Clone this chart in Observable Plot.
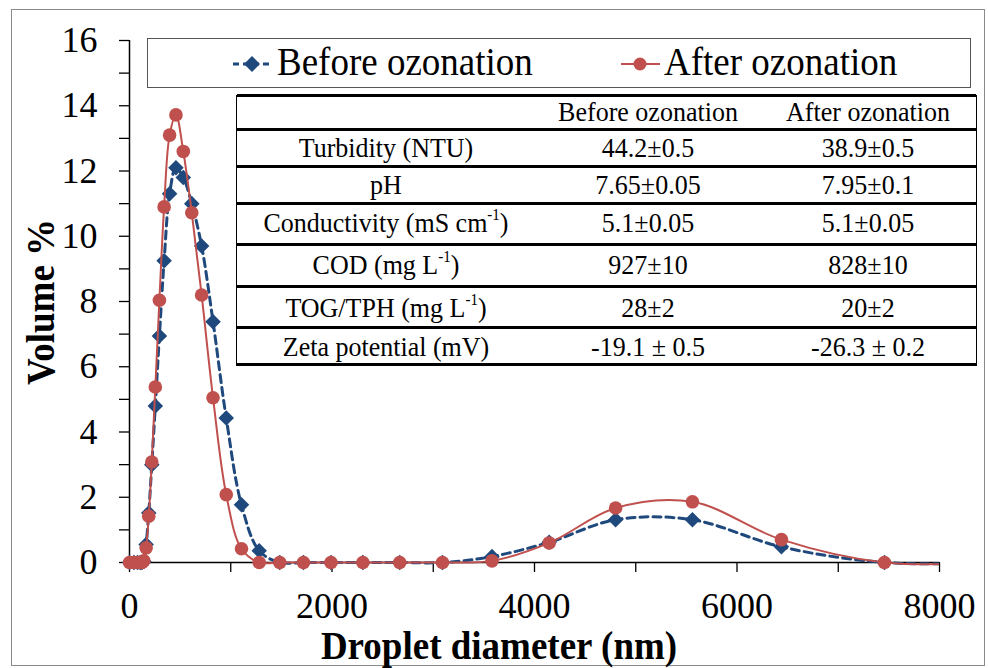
<!DOCTYPE html>
<html><head><meta charset="utf-8">
<script src="https://cdn.jsdelivr.net/npm/d3@7"></script>
<script src="https://cdn.jsdelivr.net/npm/@observablehq/plot@0.6"></script>
<style>
body{margin:0;background:#fff;}
#wrap{position:relative;width:988px;height:668px;font-family:"Liberation Serif","Times New Roman",serif;overflow:hidden;background:#fff;color:#000;}
#wrap svg{position:absolute;left:0;top:0;}
.abs{position:absolute;white-space:nowrap;line-height:1;}
#frame{position:absolute;left:11px;top:9px;width:972px;height:655px;border:1.5px solid #8a8a8a;pointer-events:none;}
#legend{position:absolute;left:147px;top:38px;width:822px;height:48px;border:1.5px solid #555;background:#fff;}
#table{position:absolute;left:236px;top:95px;width:741px;height:271px;background:#fff;border-left:1.5px solid #000;border-right:1.5px solid #000;box-sizing:border-box;}
.hl{position:absolute;left:0;width:100%;height:3px;background:#000;}
.cell{position:absolute;white-space:nowrap;line-height:1;font-size:26px;transform:translateX(-50%) scaleY(1.06);transform-origin:50% 84%;}
.cell sup{font-size:15px;vertical-align:0;position:relative;top:-11px;}
</style></head><body><div id="wrap"><div id="frame"></div></div>
<script>
// ---- data ----
const diameters = [0.4, 43.82, 78.82, 105.7, 122.4, 141.8, 164.2, 190.1, 220.2, 255.0, 295.3, 342.0, 396.1, 458.7, 531.2, 615.1, 712.4, 825.0, 955.4, 1106, 1281, 1484, 1718, 1990, 2305, 2669, 3091, 3580, 4145, 4801, 5560, 6439, 7456, 8635];
const beforeVol = [0, 0, 0, 0, 0, 0.03, 0.55, 1.52, 3.0, 4.8, 6.94, 9.25, 11.3, 12.1, 11.8, 11.0, 9.7, 7.38, 4.43, 1.77, 0.36, 0, 0, 0, 0, 0, 0, 0.18, 0.62, 1.31, 1.31, 0.48, 0, 0];
const afterVol  = [0, 0, 0, 0, 0, 0.05, 0.45, 1.42, 3.08, 5.38, 8.04, 10.9, 13.1, 13.72, 12.6, 10.72, 8.2, 5.05, 2.08, 0.42, 0, 0, 0, 0, 0, 0, 0, 0.05, 0.6, 1.67, 1.86, 0.7, 0, 0];
const seriesNames = ["Before ozonation", "After ozonation"];
const seriesColors = ["#1F497D", "#C0504D"];
const xTickValues = [0, 1000, 2000, 3000, 4000, 5000, 6000, 7000, 8000];
const yTickValues = [0,1,2,3,4,5,6,7,8,9,10,11,12,13,14,15,16];
const xLabel = "Droplet diameter (nm)";
const yLabel = "Volume %";
const tableHeader = ["", "Before ozonation", "After ozonation"];
const tableParams = ["Turbidity (NTU)", "pH", "Conductivity (mS cm<sup>-1</sup>)", "COD (mg L<sup>-1</sup>)", "TOG/TPH (mg L<sup>-1</sup>)", "Zeta potential (mV)"];
const tableBefore = ["44.2±0.5", "7.65±0.05", "5.1±0.05", "927±10", "28±2", "-19.1 ± 0.5"];
const tableAfter  = ["38.9±0.5", "7.95±0.1", "5.1±0.05", "828±10", "20±2", "-26.3 ± 0.2"];

const data = diameters.map((d, i) => ({d, before: beforeVol[i], after: afterVol[i]}));
const inRange = data.filter(p => p.d <= 8000);

const chart = Plot.plot({
  width: 988, height: 668,
  marginLeft: 129, marginRight: 49, marginTop: 40, marginBottom: 106,
  x: {domain: [0, 8000]},
  y: {domain: [0, 16]},
  style: {fontFamily: "Liberation Serif, Times New Roman, serif", fontSize: "36px", color: "#000", background: "transparent", overflow: "visible"},
  marks: [
    Plot.axisY({ticks: yTickValues, tickFormat: d => d % 2 === 0 ? String(d) : "", tickSize: 10, tickPadding: 22, label: null, strokeWidth: 1.3}),
    Plot.axisX({ticks: xTickValues, tickFormat: d => d % 2000 === 0 ? String(d) : "", tickSize: 10, tickPadding: 20, label: null, strokeWidth: 1.3}),
    Plot.ruleX([0], {y1: 0, y2: 16, stroke: "#000", strokeWidth: 1.5}),
    Plot.ruleY([0], {x1: 0, x2: 8000, stroke: "#000", strokeWidth: 1.5}),
    Plot.line(data, {x: "d", y: "before", stroke: seriesColors[0], strokeWidth: 3, strokeDasharray: "8,5", curve: "catmull-rom", clip: true}),
    Plot.dot(inRange, {x: "d", y: "before", symbol: "diamond2", fill: seriesColors[0], stroke: "none", r: 7}),
    Plot.line(data, {x: "d", y: "after", stroke: seriesColors[1], strokeWidth: 2, curve: "catmull-rom", clip: true}),
    Plot.dot(inRange, {x: "d", y: "after", fill: seriesColors[1], stroke: "none", r: 6.8})
  ]
});
// let clipped lines keep their full stroke width along the zero baseline
chart.querySelectorAll("clipPath rect").forEach(r => {
  const h = +r.getAttribute("height"), y = +r.getAttribute("y");
  if (!isNaN(h)) { r.setAttribute("y", y - 4); r.setAttribute("height", h + 8); }
});
const wrap = document.getElementById("wrap");
wrap.insertBefore(chart, wrap.firstChild);

// axis titles
const xt = document.createElement("div");
xt.className = "abs"; xt.textContent = xLabel;
xt.style.cssText += "font-weight:bold;font-size:37px;left:499px;top:628px;transform:translateX(-50%) scaleY(1.1);transform-origin:50% 84%;";
wrap.appendChild(xt);
const yt = document.createElement("div");
yt.className = "abs"; yt.textContent = yLabel;
yt.style.cssText += "font-weight:bold;font-size:37px;left:40px;top:302px;transform:translate(-50%,-50%) rotate(-90deg) scaleY(1.1);";
wrap.appendChild(yt);

// legend
const legend = document.createElement("div");
legend.id = "legend";
const legMarkerX = [231 - 147, 619 - 147];
const legTextX = [276 - 147, 663 - 147];
seriesNames.forEach((name, i) => {
  const svgNS = "http://www.w3.org/2000/svg";
  const s = document.createElementNS(svgNS, "svg");
  s.setAttribute("width", 42); s.setAttribute("height", 20);
  s.style.cssText = `position:absolute;left:${legMarkerX[i]}px;top:15px;`;
  const ln = document.createElementNS(svgNS, "line");
  ln.setAttribute("x1", 1); ln.setAttribute("x2", 40); ln.setAttribute("y1", 10); ln.setAttribute("y2", 10);
  ln.setAttribute("stroke", seriesColors[i]); ln.setAttribute("stroke-width", i === 0 ? 3 : 2);
  if (i === 0) ln.setAttribute("stroke-dasharray", "6,4");
  s.appendChild(ln);
  if (i === 0) {
    const p = document.createElementNS(svgNS, "path");
    p.setAttribute("d", "M20,2 L28,10 L20,18 L12,10 Z"); p.setAttribute("fill", seriesColors[i]);
    s.appendChild(p);
  } else {
    const c = document.createElementNS(svgNS, "circle");
    c.setAttribute("cx", 20); c.setAttribute("cy", 10); c.setAttribute("r", 6.5); c.setAttribute("fill", seriesColors[i]);
    s.appendChild(c);
  }
  legend.appendChild(s);
  const t = document.createElement("div");
  t.className = "abs"; t.textContent = name;
  t.style.cssText += `font-size:37px;left:${legTextX[i]}px;top:${74 - 38 - 0.8375 * 37}px;transform:scaleY(1.08);transform-origin:0 84%;`;
  legend.appendChild(t);
});
wrap.appendChild(legend);

// table
const table = document.createElement("div");
table.id = "table";
const lineYs = [95, 129, 166, 203, 244, 286, 327, 364];
const baselines = [122, 158, 195, 233, 275, 318, 357];
const colCenters = [385 - 236, 647 - 236, 867 - 236];
lineYs.forEach(y => {
  const l = document.createElement("div");
  l.className = "hl"; l.style.top = (y - 95 - 1) + "px";
  table.appendChild(l);
});
const rows = [tableHeader].concat(tableParams.map((p, i) => [p, tableBefore[i], tableAfter[i]]));
rows.forEach((row, r) => {
  row.forEach((txt, c) => {
    if (!txt) return;
    const cell = document.createElement("div");
    cell.className = "cell"; cell.innerHTML = txt;
    cell.style.left = colCenters[c] + "px";
    cell.style.top = (baselines[r] - 95 - 0.8375 * 26) + "px";
    table.appendChild(cell);
  });
});
wrap.appendChild(table);
</script></body></html>
